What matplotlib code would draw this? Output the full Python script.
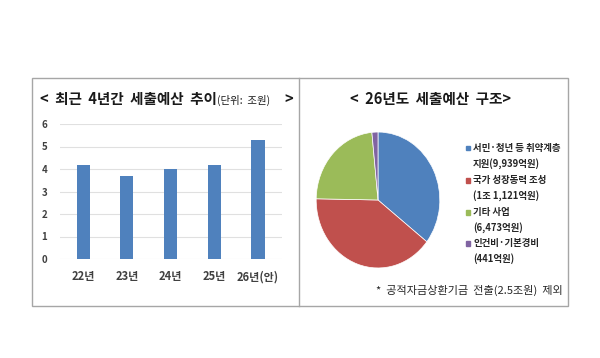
import matplotlib.pyplot as plt
from matplotlib.patches import Rectangle

plt.rcParams['font.family'] = ['Noto Sans CJK KR', 'DejaVu Sans']

# bar chart data (조원)
years = ['22년', '23년', '24년', '25년', '26년(안)']
budget = [4.2, 3.7, 4.0, 4.2, 5.3]

# pie chart data (억원)
pie_names = ['서민·청년 등 취약계층\n지원(9,939억원)', '국가 성장동력 조성\n(1조 1,121억원)',
             '기타 사업\n(6,473억원)', '인건비·기본경비\n(441억원)']
pie_values = [9939, 11121, 6473, 441]
pie_colors = ['#4F81BD', '#C0504D', '#9BBB59', '#8064A2']

W, H = 600, 358


def fx(x):
    return x / W


def fy(y):
    return 1 - y / H


fig = plt.figure(figsize=(6, 3.58), dpi=100)
fig.patch.set_facecolor('white')

# frame around both charts
fig.add_artist(Rectangle((fx(32), fy(306)), (568 - 32) / W, (306 - 78) / H,
                         transform=fig.transFigure, fill=False, edgecolor='#A6A6A6', lw=1))
fig.add_artist(plt.Line2D([fx(299), fx(299)], [fy(306), fy(78)],
                          transform=fig.transFigure, color='#A6A6A6', lw=1))

# left: bar chart
ax = fig.add_axes([fx(60), fy(259), 222 / W, 135 / H])
x = range(len(years))
ax.bar(x, budget, width=0.3, color='#4F81BD', zorder=3)
ax.set_ylim(0, 6)
ax.set_xlim(-0.53, 4.55)
ax.set_yticks(range(0, 7))
ax.set_xticks(list(x))
ax.set_xticklabels(years, fontsize=8, fontweight='bold', color='#404040')
ax.tick_params(axis='y', labelsize=7, colors='#404040', length=0, pad=9)
ax.tick_params(axis='x', length=0, pad=8)
for t in ax.get_yticklabels():
    t.set_fontweight('bold')
ax.grid(axis='y', color='#E0E0E0', lw=0.8, zorder=0)
for s in ax.spines.values():
    s.set_visible(False)

fig.text(fx(40), fy(99), '<  최근  4년간  세출예산  추이', fontsize=10.5, fontweight='bold',
         va='center', ha='left', color='#1A1A1A')
fig.text(fx(217), fy(100), '(단위:  조원)', fontsize=7.5, va='center', ha='left', color='#1A1A1A')
fig.text(fx(284), fy(99), '>', fontsize=10.5, fontweight='bold', va='center', ha='left',
         color='#1A1A1A')

# right: pie chart
fig.text(fx(431), fy(99), '<  26년도  세출예산  구조>', fontsize=10.5, fontweight='bold',
         va='center', ha='center', color='#1A1A1A')

pax = fig.add_axes([fx(310), fy(270), 136 / W, 140 / H])
pax.pie(pie_values, colors=pie_colors, startangle=90, counterclock=False,
        wedgeprops=dict(edgecolor='white', linewidth=0.5))
pax.set_aspect('auto')
pax.set_xlim(-1.1, 1.1)
pax.set_ylim(-1.03, 1.03)
pax.axis('off')

# legend
leg_y = [148, 180, 212, 243]
for name, col, y in zip(pie_names, pie_colors, leg_y):
    fig.add_artist(Rectangle((fx(466), fy(y + 2.5)), 4.5 / W, 4.5 / H,
                             transform=fig.transFigure, color=col))
    first, second = name.split('\n')
    fig.text(fx(473), fy(y), first, fontsize=6.8, fontweight='bold', va='center',
             ha='left', color='#262626')
    fig.text(fx(473), fy(y + 16), second, fontsize=6.8, fontweight='bold', va='center',
             ha='left', color='#262626')

fig.text(fx(563), fy(290), '*  공적자금상환기금  전출(2.5조원)  제외', fontsize=8,
         va='center', ha='right', color='#262626')

fig.savefig('out.png', dpi=100)
